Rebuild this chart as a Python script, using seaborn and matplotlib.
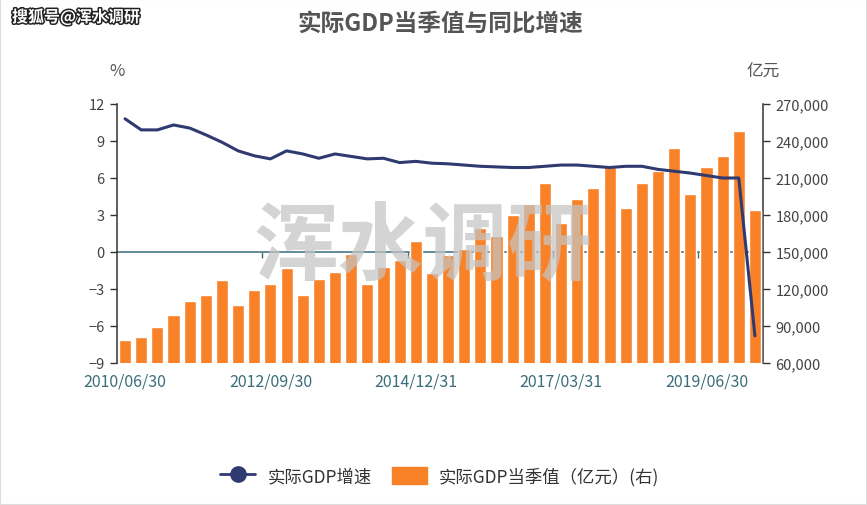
import numpy as np
import pandas as pd
import matplotlib
matplotlib.use("Agg")
import matplotlib.pyplot as plt
import seaborn as sns
from matplotlib.lines import Line2D
from matplotlib.patches import Patch
import matplotlib.patheffects as pe
from matplotlib.ticker import FuncFormatter

# ---------------- data ----------------
quarters = [
    "2010/06/30", "2010/09/30", "2010/12/31", "2011/03/31", "2011/06/30",
    "2011/09/30", "2011/12/31", "2012/03/31", "2012/06/30", "2012/09/30",
    "2012/12/31", "2013/03/31", "2013/06/30", "2013/09/30", "2013/12/31",
    "2014/03/31", "2014/06/30", "2014/09/30", "2014/12/31", "2015/03/31",
    "2015/06/30", "2015/09/30", "2015/12/31", "2016/03/31", "2016/06/30",
    "2016/09/30", "2016/12/31", "2017/03/31", "2017/06/30", "2017/09/30",
    "2017/12/31", "2018/03/31", "2018/06/30", "2018/09/30", "2018/12/31",
    "2019/03/31", "2019/06/30", "2019/09/30", "2019/12/31", "2020/03/31",
]
gdp_value = [
    78900, 81300, 88900, 98900, 110500, 115100, 127300, 107000, 118900, 124000,
    137300, 115400, 128100, 134000, 148400, 124300, 137600, 143500, 158900, 133000,
    147800, 152800, 169200, 163200, 180200, 188900, 206200, 173500, 193000, 201900,
    218900, 185700, 206200, 215400, 234300, 197300, 218900, 228100, 248400, 184100,
]
gdp_growth = [
    10.8, 9.9, 9.9, 10.3, 10.05, 9.5, 8.9, 8.2, 7.8, 7.55,
    8.2, 7.95, 7.6, 7.95, 7.75, 7.55, 7.6, 7.25, 7.35, 7.2,
    7.15, 7.05, 6.95, 6.9, 6.85, 6.85, 6.95, 7.05, 7.05, 6.95,
    6.85, 6.95, 6.95, 6.7, 6.55, 6.4, 6.2, 6.0, 6.0, -6.8,
]
label_idx = [0, 9, 18, 27, 36]
left_ticks = [-9, -6, -3, 0, 3, 6, 9, 12]
right_ticks = [60000, 90000, 120000, 150000, 180000, 210000, 240000, 270000]

title = "实际GDP当季值与同比增速"
line_name = "实际GDP增速"
bar_name = "实际GDP当季值（亿元）(右)"

# ---------------- style ----------------
sns.set_theme(style="white")
plt.rcParams["font.family"] = ["Noto Sans CJK SC", "DejaVu Sans"]

ORANGE = "#f98127"
NAVY = "#2f3a70"
TEAL = "#3a6d7a"
AXC = "#333333"
TXT = "#444444"

df = pd.DataFrame({"quarter": quarters, "value": gdp_value, "growth": gdp_growth})

W, H = 867, 506
fig = plt.figure(figsize=(W / 100, H / 100), dpi=100)
fig.patch.set_facecolor("white")

x0, x1, y0, y1 = 117, 763, 105, 364
ax_bar = fig.add_axes([x0 / W, 1 - y1 / H, (x1 - x0) / W, (y1 - y0) / H])

sns.barplot(data=df, x="quarter", y="value", color=ORANGE, saturation=1,
            width=0.75, ax=ax_bar, zorder=3)
ax_line = ax_bar.twinx()
sns.lineplot(data=df, x="quarter", y="growth", color=NAVY, lw=2.2, sort=False,
             ax=ax_line, zorder=5)

# bar axis -> right
ax_bar.set_xlim(-0.5, len(quarters) - 0.5)
ax_bar.set_ylim(right_ticks[0], right_ticks[-1])
ax_bar.yaxis.tick_right()
ax_bar.yaxis.set_label_position("right")
ax_bar.set_yticks(right_ticks)
ax_bar.yaxis.set_major_formatter(FuncFormatter(lambda v, p: f"{int(v):,}"))
ax_bar.tick_params(axis="y", which="major", direction="out", length=5, width=1,
                   color=AXC, labelcolor=TXT, labelsize=10.5, pad=4)
for s in ["left", "top"]:
    ax_bar.spines[s].set_visible(False)
ax_bar.spines["right"].set_color(AXC)
ax_bar.spines["right"].set_linewidth(1.1)
# category axis sits on the 0 % level (= 150,000 on right scale)
ax_bar.spines["bottom"].set_position(("data", 150000))
ax_bar.spines["bottom"].set_color(TEAL)
ax_bar.spines["bottom"].set_linewidth(1.1)
ax_bar.spines["bottom"].set_zorder(1)
ax_bar.set_xticks(label_idx)
ax_bar.set_xticklabels([quarters[i] for i in label_idx])
ax_bar.set_xticks([i - 0.5 for i in label_idx[1:]], minor=True)
ax_bar.tick_params(axis="x", which="major", length=0, labelsize=11.5,
                   labelcolor=TEAL, pad=87)
ax_bar.tick_params(axis="x", which="minor", direction="out", length=4,
                   width=1, color=TEAL, bottom=True)
ax_bar.set_xlabel("")
ax_bar.set_ylabel("")
ax_bar.grid(False)

# line axis -> left
ax_line.set_ylim(left_ticks[0], left_ticks[-1])
ax_line.yaxis.tick_left()
ax_line.yaxis.set_label_position("left")
ax_line.set_yticks(left_ticks)
ax_line.tick_params(axis="y", direction="out", length=5, width=1, color=AXC,
                    labelcolor=TXT, labelsize=10.5, pad=4)
for s in ["right", "top", "bottom"]:
    ax_line.spines[s].set_visible(False)
ax_line.spines["left"].set_visible(True)
ax_line.spines["left"].set_color(AXC)
ax_line.spines["left"].set_linewidth(1.1)
ax_line.set_ylabel("")
ax_line.grid(False)
if ax_line.get_legend():
    ax_line.get_legend().remove()

# axis unit labels
fig.text(x0 / W, 1 - 72 / H, "%", ha="center", va="center", fontsize=12, color="#555555")
fig.text(x1 / W, 1 - 72 / H, "亿元", ha="center", va="center", fontsize=12, color="#555555")

# title
fig.text(440 / W, 1 - 24 / H, title, ha="center", va="center", fontsize=17,
         fontweight="bold", color="#555555")

# top-left source tag
fig.text(12 / W, 1 - 18 / H, "搜狐号@浑水调研", ha="left", va="center", fontsize=11.5,
         color="white", fontweight="bold",
         path_effects=[pe.withStroke(linewidth=2.2, foreground="#222222")])

# big watermark
fig.text(423 / W, 1 - 248 / H, "浑水调研", ha="center", va="center", fontsize=61,
         color="#c4c4c4", alpha=0.72, fontweight="bold", zorder=20)

# legend
handles = [
    Line2D([0], [0], color=NAVY, lw=2, marker="o", markersize=11,
           markerfacecolor=NAVY, markeredgecolor=NAVY),
    Patch(facecolor=ORANGE, edgecolor=ORANGE),
]
fig.legend(handles, [line_name, bar_name], loc="center", ncol=2,
           bbox_to_anchor=(440 / W, 1 - 477 / H), frameon=False, fontsize=12.5,
           handlelength=2.0, handleheight=1.2, columnspacing=1.2, handletextpad=0.7,
           labelcolor="#333333")

# light frame around the image
fig.add_artist(plt.Rectangle((0, 0), 1, 1, transform=fig.transFigure, fill=False,
                             edgecolor="#dddddd", lw=1.5))

fig.savefig("out.png", dpi=100)
